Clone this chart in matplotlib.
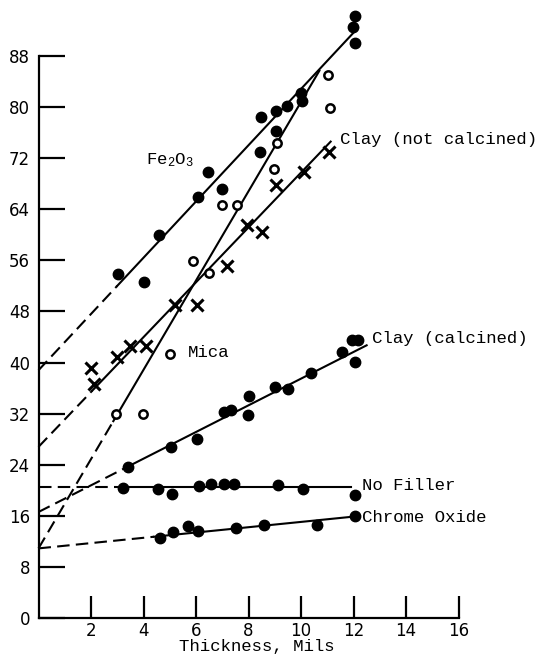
import numpy as np
import matplotlib
matplotlib.use("Agg")
import matplotlib.pyplot as plt

plt.rcParams["font.family"] = ["Liberation Mono", "DejaVu Sans Mono"]
plt.rcParams["mathtext.fontset"] = "custom"
plt.rcParams["mathtext.rm"] = "Liberation Mono"
plt.rcParams["mathtext.it"] = "Liberation Mono"

# Measured points: thickness (mils) vs. value
fe_x = [3.04, 4.02, 4.58, 6.08, 6.46, 7.0, 8.44, 8.48, 9.03, 9.03, 9.45, 10.0, 10.03, 11.98, 12.06, 12.06]
fe_y = [53.9, 52.6, 60.0, 65.9, 69.8, 67.2, 73.0, 78.5, 79.4, 76.3, 80.2, 82.2, 81.0, 92.6, 94.2, 90.0]

clay_nc_x = [2.0, 2.13, 3.0, 3.47, 4.1, 5.2, 6.03, 7.17, 7.95, 8.5, 9.05, 10.1, 11.08]
clay_nc_y = [39.1, 36.6, 40.9, 42.6, 42.6, 49.0, 49.0, 55.1, 61.5, 60.5, 67.8, 69.9, 72.9]

mica_x = [2.95, 3.99, 5.01, 5.9, 6.5, 6.98, 7.57, 8.98, 9.09, 11.02, 11.1]
mica_y = [31.9, 31.9, 41.4, 55.9, 54.1, 64.7, 64.7, 70.3, 74.4, 85.0, 79.8]

clay_c_x = [3.4, 5.04, 6.03, 7.07, 7.32, 7.97, 8.02, 9.01, 9.49, 10.38, 11.55, 12.06, 11.94, 12.18]
clay_c_y = [23.6, 26.7, 28.0, 32.2, 32.5, 31.8, 34.8, 36.2, 35.8, 38.3, 41.6, 40.1, 43.5, 43.5]

nofill_x = [3.2, 4.54, 5.07, 6.13, 6.57, 7.07, 7.46, 9.14, 10.06, 12.06]
nofill_y = [20.3, 20.2, 19.4, 20.7, 21.0, 21.0, 21.0, 20.9, 20.2, 19.3]

chrome_x = [4.63, 5.14, 5.71, 6.09, 7.52, 8.58, 10.6, 12.06]
chrome_y = [12.6, 13.4, 14.45, 13.7, 14.05, 14.6, 14.6, 15.9]

# Fitted lines: value at zero thickness, end point, and where the solid part begins
fit_names = ["fe", "clay_nc", "mica", "clay_c", "nofill", "chrome"]
fit_y0 = [38.8, 26.8, 10.9, 16.6, 20.5, 10.9]
fit_x1 = [12.17, 11.13, 10.7, 12.5, 11.9, 12.06]
fit_y1 = [92.4, 74.6, 85.7, 42.7, 20.5, 15.9]
fit_solid_from = [3.0, 2.05, 2.85, 3.3, 3.2, 4.4]

# Curve labels
labels = [r"Fe$_\mathregular{2}$O$_\mathregular{3}$", "Clay (not calcined)", "Mica",
          "Clay (calcined)", "No Filler", "Chrome Oxide"]
label_x = [4.1, 11.49, 5.7, 12.69, 12.31, 12.31]
label_y = [71.0, 74.2, 40.9, 43.1, 20.0, 15.0]

x_ticks = [2, 4, 6, 8, 10, 12, 14, 16]
y_ticks = [0, 8, 16, 24, 32, 40, 48, 56, 64, 72, 80, 88]

fig = plt.figure(figsize=(5.37, 6.55), dpi=100)
ax = fig.add_axes([38.5 / 537, 37 / 655, 17 * 26.25 / 537, 96 * 6.386 / 655])
ax.set_xlim(0, 17)
ax.set_ylim(0, 96)

lw = 1.5
for y0, x1, y1, xs in zip(fit_y0, fit_x1, fit_y1, fit_solid_from):
    ys = np.interp(xs, [0, x1], [y0, y1])
    ax.plot([0, xs], [y0, ys], color="black", lw=lw, linestyle=(0, (6, 3)),
            solid_capstyle="butt", clip_on=False)
    ax.plot([xs, x1], [ys, y1], color="black", lw=lw, clip_on=False)

filled = dict(linestyle="none", marker="o", markersize=7.5, color="black", clip_on=False)
ax.plot(fe_x, fe_y, **filled)
ax.plot(clay_c_x, clay_c_y, **filled)
ax.plot(nofill_x, nofill_y, **filled)
ax.plot(chrome_x, chrome_y, **filled)
ax.plot(mica_x, mica_y, linestyle="none", marker="o", markersize=6, mfc="white",
        mec="black", mew=1.8, clip_on=False)
ax.plot(clay_nc_x, clay_nc_y, linestyle="none", marker="x", markersize=8.5,
        color="black", mew=2.2, clip_on=False)

for txt, lx, ly in zip(labels, label_x, label_y):
    ax.text(lx, ly, txt, fontsize=12.5, ha="left", va="baseline", clip_on=False)

for side in ["top", "right"]:
    ax.spines[side].set_visible(False)
ax.spines["left"].set_bounds(0, 88)
ax.spines["bottom"].set_bounds(0, 16)
ax.spines["left"].set_linewidth(1.6)
ax.spines["bottom"].set_linewidth(1.6)

ax.set_xticks(x_ticks)
ax.set_yticks(y_ticks)
ax.set_xticklabels([str(v) for v in x_ticks], fontfamily="DejaVu Sans", fontsize=12)
ax.set_yticklabels([str(v) for v in y_ticks], fontfamily="DejaVu Sans", fontsize=12)
ax.tick_params(axis="y", direction="in", length=19, width=1.6, pad=6)
ax.tick_params(axis="x", direction="in", length=16, width=1.6, pad=3)

ax.set_xlabel("Thickness, Mils", fontsize=12.5)
ax.xaxis.set_label_coords(0.49, -0.035)

fig.savefig("out.png", dpi=100)
